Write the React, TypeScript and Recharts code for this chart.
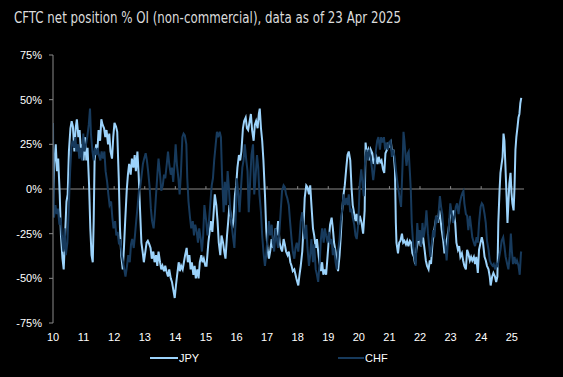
import { LineChart, Line, XAxis, YAxis, ReferenceLine } from 'recharts'

// [year fraction, net position % OI]
const JPY: [number, number][] = [
  [2010.00, -9], [2010.04, 14], [2010.09, 25], [2010.13, 10], [2010.17, 17], [2010.22, -3], [2010.26, -26],
  [2010.31, -39], [2010.35, -45], [2010.39, -28], [2010.44, -7], [2010.48, -3], [2010.52, 21], [2010.57, 34],
  [2010.61, 38], [2010.65, 35], [2010.70, 21], [2010.74, 34], [2010.78, 39], [2010.83, 29], [2010.87, 33],
  [2010.92, 19], [2010.96, 25], [2011.00, 16], [2011.05, 29], [2011.09, 16], [2011.13, 23], [2011.18, 2],
  [2011.22, -22], [2011.26, -37], [2011.30, -41], [2011.33, -18], [2011.36, 16], [2011.41, 25], [2011.45, 21],
  [2011.49, 33], [2011.54, 27], [2011.58, 39], [2011.62, 36], [2011.67, 34], [2011.71, 29], [2011.75, 33],
  [2011.80, 25], [2011.84, 31], [2011.88, 21], [2011.93, 17], [2011.97, 29], [2012.01, 37], [2012.06, 35],
  [2012.10, 32], [2012.15, 6], [2012.19, -22], [2012.23, -37], [2012.28, -45], [2012.32, -33], [2012.36, -18],
  [2012.41, -1], [2012.45, 8], [2012.49, 14], [2012.54, 8], [2012.58, 17], [2012.63, 12], [2012.67, 19],
  [2012.71, 10], [2012.76, 21], [2012.80, 8], [2012.84, -9], [2012.89, -30], [2012.93, -35], [2012.97, -41],
  [2013.02, -35], [2013.06, -30], [2013.10, -29], [2013.15, -31], [2013.19, -33], [2013.23, -39], [2013.28, -35],
  [2013.32, -41], [2013.37, -37], [2013.41, -43], [2013.45, -35], [2013.50, -41], [2013.54, -45], [2013.58, -43],
  [2013.63, -46], [2013.67, -43], [2013.71, -46], [2013.76, -49], [2013.80, -45], [2013.85, -50], [2013.89, -52],
  [2013.93, -56], [2013.98, -61], [2014.02, -54], [2014.06, -48], [2014.11, -41], [2014.15, -46], [2014.19, -43],
  [2014.24, -45], [2014.28, -41], [2014.32, -37], [2014.37, -33], [2014.41, -41], [2014.46, -37], [2014.50, -45],
  [2014.54, -41], [2014.59, -48], [2014.63, -43], [2014.67, -50], [2014.72, -45], [2014.76, -50], [2014.80, -41],
  [2014.85, -37], [2014.89, -41], [2014.93, -39], [2014.98, -43], [2015.02, -43], [2015.08, -30], [2015.12, -24],
  [2015.16, -18], [2015.21, -24], [2015.25, -14], [2015.29, -3], [2015.34, -9], [2015.38, -18], [2015.42, -30],
  [2015.47, -37], [2015.51, -26], [2015.56, -30], [2015.60, -35], [2015.64, -39], [2015.69, -26], [2015.73, -18],
  [2015.77, -9], [2015.82, -16], [2015.86, -22], [2015.90, -18], [2015.95, -3], [2015.99, 2], [2016.03, 12],
  [2016.08, 19], [2016.12, 16], [2016.16, 21], [2016.21, 34], [2016.25, 38], [2016.30, 40], [2016.34, 34],
  [2016.38, 33], [2016.43, 38], [2016.47, 42], [2016.51, 33], [2016.56, 27], [2016.60, 36], [2016.64, 38],
  [2016.69, 34], [2016.73, 42], [2016.76, 45], [2016.80, 34], [2016.84, 27], [2016.88, 16], [2016.93, -3],
  [2016.97, -22], [2017.01, -33], [2017.06, -39], [2017.10, -35], [2017.15, -28], [2017.19, -33], [2017.23, -30],
  [2017.28, -22], [2017.32, -26], [2017.36, -18], [2017.41, -30], [2017.45, -33], [2017.49, -35], [2017.54, -28],
  [2017.58, -31], [2017.62, -35], [2017.67, -37], [2017.71, -35], [2017.76, -41], [2017.80, -43], [2017.84, -46],
  [2017.89, -45], [2017.93, -48], [2017.97, -51], [2018.02, -54], [2018.06, -48], [2018.10, -43], [2018.15, -35],
  [2018.19, -22], [2018.23, -5], [2018.28, 2], [2018.32, 1], [2018.37, -3], [2018.41, 2], [2018.45, -9],
  [2018.50, -22], [2018.54, -26], [2018.59, -33], [2018.63, -28], [2018.67, -35], [2018.71, -41], [2018.76, -46],
  [2018.80, -41], [2018.84, -48], [2018.89, -45], [2018.93, -48], [2018.98, -37], [2019.02, -28], [2019.06, -20],
  [2019.11, -16], [2019.15, -22], [2019.19, -30], [2019.24, -35], [2019.28, -41], [2019.32, -46], [2019.37, -37],
  [2019.41, -26], [2019.45, -13], [2019.50, -3], [2019.54, 2], [2019.59, 12], [2019.63, 19], [2019.67, 21],
  [2019.72, 16], [2019.76, 1], [2019.80, -9], [2019.85, -14], [2019.89, -18], [2019.93, -14], [2019.98, -20],
  [2020.03, -15], [2020.09, -19], [2020.14, -25], [2020.19, -12], [2020.22, 26], [2020.26, 20], [2020.31, 22],
  [2020.35, 16], [2020.39, 22], [2020.44, 20], [2020.48, 14], [2020.52, 16], [2020.57, 18], [2020.61, 14],
  [2020.65, 18], [2020.70, 15], [2020.74, 16], [2020.79, 11], [2020.83, 9], [2020.87, 20], [2020.92, 22],
  [2020.96, 25], [2021.00, 24], [2021.05, 26], [2021.09, 20], [2021.13, 22], [2021.18, 11], [2021.21, -19],
  [2021.23, -30], [2021.28, -36], [2021.32, -30], [2021.36, -29], [2021.41, -25], [2021.45, -30], [2021.49, -29],
  [2021.54, -31], [2021.58, -29], [2021.62, -32], [2021.67, -29], [2021.71, -30], [2021.75, -36], [2021.80, -38],
  [2021.84, -42], [2021.88, -34], [2021.93, -30], [2021.97, -23], [2022.02, -32], [2022.06, -30], [2022.10, -27],
  [2022.15, -34], [2022.19, -40], [2022.23, -43], [2022.28, -45], [2022.32, -40], [2022.36, -42], [2022.41, -30],
  [2022.45, -25], [2022.50, -19], [2022.54, -15], [2022.58, -19], [2022.63, -12], [2022.67, -17], [2022.71, -23],
  [2022.76, -29], [2022.80, -36], [2022.84, -32], [2022.89, -27], [2022.93, -23], [2022.97, -17], [2023.02, -12],
  [2023.06, -15], [2023.10, -12], [2023.15, -19], [2023.19, -30], [2023.24, -34], [2023.28, -32], [2023.32, -38],
  [2023.37, -36], [2023.41, -40], [2023.45, -43], [2023.50, -45], [2023.54, -34], [2023.58, -36], [2023.63, -40],
  [2023.67, -38], [2023.71, -40], [2023.76, -38], [2023.80, -42], [2023.84, -38], [2023.89, -47], [2023.93, -34],
  [2023.98, -30], [2024.02, -27], [2024.06, -30], [2024.11, -38], [2024.15, -40], [2024.19, -43], [2024.24, -45],
  [2024.28, -49], [2024.31, -54], [2024.36, -49], [2024.40, -47], [2024.45, -49], [2024.49, -52], [2024.53, -49],
  [2024.56, -19], [2024.60, -1], [2024.63, 9], [2024.66, 13], [2024.70, 18], [2024.73, 31], [2024.76, 27],
  [2024.79, 14], [2024.83, -4], [2024.86, -19], [2024.89, -8], [2024.92, 3], [2024.96, 9], [2024.99, -2],
  [2025.02, -8], [2025.06, -12], [2025.09, 1], [2025.12, 22], [2025.15, 29], [2025.19, 35], [2025.22, 40],
  [2025.25, 42], [2025.28, 48], [2025.31, 51],
]

const CHF: [number, number][] = [
  [2010.00, 37], [2010.03, -16], [2010.08, -9], [2010.12, -14], [2010.16, -11], [2010.21, -20], [2010.25, -16],
  [2010.29, -26], [2010.34, -35], [2010.38, -22], [2010.42, -37], [2010.47, -30], [2010.51, -13], [2010.56, 10],
  [2010.60, 23], [2010.64, 27], [2010.69, 23], [2010.73, 29], [2010.77, 21], [2010.82, 25], [2010.86, 17],
  [2010.90, 23], [2010.95, 16], [2010.99, 31], [2011.03, 21], [2011.08, 25], [2011.12, 29], [2011.17, 36],
  [2011.21, 45], [2011.24, 31], [2011.29, 21], [2011.33, 16], [2011.37, 23], [2011.42, 19], [2011.46, 23],
  [2011.50, 19], [2011.55, 16], [2011.59, 21], [2011.64, 17], [2011.68, 21], [2011.72, 10], [2011.77, 4],
  [2011.81, -3], [2011.85, -9], [2011.90, -7], [2011.94, -16], [2011.98, -22], [2012.03, -18], [2012.07, -26],
  [2012.11, -24], [2012.16, -31], [2012.20, -28], [2012.25, -37], [2012.29, -41], [2012.33, -45], [2012.37, -49],
  [2012.42, -43], [2012.46, -37], [2012.51, -41], [2012.55, -31], [2012.59, -28], [2012.64, -33], [2012.68, -26],
  [2012.72, -18], [2012.77, -9], [2012.81, -1], [2012.85, 1], [2012.90, 8], [2012.94, 14], [2012.98, 17],
  [2013.03, 20], [2013.07, 16], [2013.11, 10], [2013.16, 1], [2013.20, -11], [2013.24, -18], [2013.29, -22],
  [2013.33, -14], [2013.37, -3], [2013.42, 10], [2013.45, 17], [2013.50, 8], [2013.54, -1], [2013.59, 2],
  [2013.63, 8], [2013.67, 6], [2013.72, 14], [2013.76, 21], [2013.80, 14], [2013.85, 8], [2013.89, 12],
  [2013.93, 4], [2013.98, 16], [2014.01, 25], [2014.05, 14], [2014.10, 6], [2014.14, -3], [2014.18, 8],
  [2014.23, 29], [2014.27, 31], [2014.31, 30], [2014.36, 25], [2014.39, 6], [2014.43, -7], [2014.48, -16],
  [2014.52, -22], [2014.57, -18], [2014.61, -26], [2014.65, -20], [2014.70, -24], [2014.74, -30], [2014.78, -22],
  [2014.83, -28], [2014.87, -35], [2014.91, -26], [2014.95, -9], [2015.01, -18], [2015.05, -26], [2015.10, -18],
  [2015.14, -9], [2015.19, 2], [2015.23, 6], [2015.27, 16], [2015.32, 25], [2015.36, 32], [2015.40, 29],
  [2015.45, 32], [2015.49, 29], [2015.53, 6], [2015.58, -13], [2015.62, 4], [2015.66, -9], [2015.71, 10],
  [2015.75, 1], [2015.80, -13], [2015.84, -20], [2015.88, -26], [2015.93, -33], [2015.97, -18], [2016.01, 6],
  [2016.06, -3], [2016.10, -13], [2016.14, -1], [2016.19, 12], [2016.23, 16], [2016.27, 25], [2016.32, 16],
  [2016.36, 10], [2016.40, -13], [2016.45, 6], [2016.49, 19], [2016.54, 25], [2016.58, -3], [2016.62, 6],
  [2016.67, 19], [2016.71, 12], [2016.75, -3], [2016.80, -13], [2016.84, -26], [2016.88, -35], [2016.93, -43],
  [2016.97, -37], [2017.01, -28], [2017.06, -18], [2017.10, -26], [2017.15, -20], [2017.19, -30], [2017.23, -35],
  [2017.28, -22], [2017.32, -28], [2017.36, -33], [2017.41, -22], [2017.45, -11], [2017.49, -1], [2017.54, 2],
  [2017.58, 1], [2017.62, -3], [2017.66, -5], [2017.71, -9], [2017.75, -18], [2017.80, -28], [2017.84, -35],
  [2017.89, -39], [2017.93, -33], [2017.97, -30], [2018.02, -35], [2018.06, -28], [2018.10, -18], [2018.15, -13],
  [2018.19, -22], [2018.23, -28], [2018.28, -20], [2018.32, -33], [2018.37, -43], [2018.41, -37], [2018.45, -28],
  [2018.50, -41], [2018.54, -31], [2018.59, -45], [2018.63, -48], [2018.67, -52], [2018.72, -41], [2018.76, -28],
  [2018.80, -22], [2018.85, -30], [2018.89, -22], [2018.93, -26], [2018.98, -30], [2019.02, -24], [2019.06, -30],
  [2019.11, -28], [2019.15, -37], [2019.19, -33], [2019.24, -41], [2019.28, -45], [2019.32, -35], [2019.37, -28],
  [2019.41, -18], [2019.46, -11], [2019.50, -3], [2019.54, -9], [2019.59, -5], [2019.63, -9], [2019.67, -3],
  [2019.72, -13], [2019.76, -11], [2019.80, -16], [2019.85, -20], [2019.89, -26], [2019.93, -28], [2019.98, -20],
  [2020.03, 3], [2020.08, 11], [2020.12, 3], [2020.16, -4], [2020.21, 18], [2020.25, 22], [2020.29, 16],
  [2020.34, 22], [2020.38, 18], [2020.42, 13], [2020.47, 5], [2020.51, 11], [2020.56, 22], [2020.60, 27],
  [2020.64, 29], [2020.69, 22], [2020.73, 29], [2020.77, 26], [2020.82, 29], [2020.86, 22], [2020.90, 26],
  [2020.95, 22], [2020.99, 26], [2021.04, 27], [2021.08, 18], [2021.12, 22], [2021.17, 18], [2021.21, 11],
  [2021.25, 5], [2021.30, -1], [2021.34, -6], [2021.38, -10], [2021.43, 14], [2021.46, 32], [2021.49, 27],
  [2021.53, 18], [2021.56, 13], [2021.60, 20], [2021.63, 21], [2021.67, 9], [2021.70, -1], [2021.73, -19],
  [2021.78, -32], [2021.82, -38], [2021.86, -43], [2021.91, -19], [2021.95, -29], [2021.99, -23], [2022.04, -32],
  [2022.08, -19], [2022.12, -27], [2022.17, -21], [2022.21, -12], [2022.26, -25], [2022.30, -32], [2022.34, -38],
  [2022.39, -30], [2022.43, -23], [2022.47, -27], [2022.52, -15], [2022.56, -19], [2022.60, -15], [2022.65, -4],
  [2022.69, -10], [2022.73, -14], [2022.78, -27], [2022.82, -30], [2022.87, -40], [2022.91, -30], [2022.95, -19],
  [2022.99, -8], [2023.04, -14], [2023.08, -19], [2023.13, -15], [2023.17, -10], [2023.21, -8], [2023.26, -14],
  [2023.30, -8], [2023.35, -4], [2023.39, -2], [2023.42, -1], [2023.45, -8], [2023.50, -14], [2023.54, -15],
  [2023.58, -23], [2023.63, -15], [2023.67, -21], [2023.71, -27], [2023.76, -30], [2023.80, -32], [2023.85, -27],
  [2023.89, -30], [2023.93, -19], [2023.98, -10], [2024.02, -8], [2024.06, -9], [2024.11, -14], [2024.15, -19],
  [2024.19, -29], [2024.24, -34], [2024.28, -40], [2024.33, -42], [2024.37, -43], [2024.41, -42], [2024.46, -45],
  [2024.50, -42], [2024.54, -43], [2024.59, -38], [2024.63, -34], [2024.67, -29], [2024.72, -27], [2024.76, -32],
  [2024.80, -38], [2024.85, -42], [2024.89, -45], [2024.93, -38], [2024.97, -25], [2025.00, -34], [2025.04, -42],
  [2025.09, -38], [2025.13, -42], [2025.17, -40], [2025.22, -43], [2025.26, -48], [2025.30, -36], [2025.31, -35],
]

const YEARS = [2010, 2011, 2012, 2013, 2014, 2015, 2016, 2017, 2018, 2019, 2020, 2021, 2022, 2023, 2024, 2025]
const Y_TICKS = [-75, -50, -25, 0, 25, 50, 75]

const JPY_COLOR = '#9cd3fb'
const CHF_COLOR = '#173a5c'
const AXIS = '#8a8a8a'
const FONT = '"Liberation Sans", Arial, sans-serif'

const jpyData = JPY.map(([t, v]) => ({ t, v }))
const chfData = CHF.map(([t, v]) => ({ t, v }))

export default function App() {
  return (
    <div style={{ position: 'fixed', left: 0, top: 0, width: 563, height: 377, background: '#000', overflow: 'hidden' }}>
      <svg width={563} height={40} style={{ position: 'absolute', left: 0, top: 0 }}>
        <text
          x={14}
          y={23}
          fill="#dcdcdc"
          fontSize={15}
          fontFamily='"Liberation Sans Narrow", "DejaVu Sans Condensed", Arial, sans-serif'
          textLength={387}
          lengthAdjust="spacingAndGlyphs"
        >
          CFTC net position % OI (non-commercial), data as of 23 Apr 2025
        </text>
      </svg>

      <div style={{ position: 'absolute', left: 0, top: 0 }}>
        <LineChart width={563} height={377} margin={{ top: 55, right: 39, bottom: 24, left: 0 }}>
          <XAxis
            dataKey="t"
            type="number"
            domain={[2010, 2025.4]}
            ticks={YEARS}
            allowDataOverflow
            tickFormatter={(y: number) => String(y).slice(2)}
            axisLine={false}
            tickLine={false}
            tickSize={0}
            tickMargin={10}
            height={30}
            tick={{ fill: '#ffffff', fontSize: 11, fontFamily: FONT }}
          />
          <YAxis
            type="number"
            domain={[-75, 75]}
            ticks={Y_TICKS}
            width={53}
            tickFormatter={(v: number) => `${v}%`}
            axisLine={{ stroke: AXIS }}
            tickLine={{ stroke: AXIS }}
            tickSize={4}
            tickMargin={7}
            tick={{ fill: '#ffffff', fontSize: 11, fontFamily: FONT }}
          />
          <ReferenceLine y={0} stroke={AXIS} strokeWidth={1} />
          {YEARS.slice(1).map(y => (
            <ReferenceLine key={y} segment={[{ x: y, y: 0 }, { x: y, y: 1.6 }]} stroke={AXIS} strokeWidth={1} />
          ))}
          <Line data={jpyData} dataKey="v" type="linear" stroke={JPY_COLOR} strokeWidth={2} dot={false} isAnimationActive={false} />
          <Line data={chfData} dataKey="v" type="linear" stroke={CHF_COLOR} strokeWidth={2} dot={false} isAnimationActive={false} />
        </LineChart>
      </div>

      {/* legend */}
      <div style={{ position: 'absolute', left: 150, top: 352, fontFamily: FONT, fontSize: 11, color: '#fff', display: 'flex', alignItems: 'center' }}>
        <span style={{ width: 28, height: 2, background: JPY_COLOR, display: 'inline-block' }} />
        <span style={{ marginLeft: 1 }}>JPY</span>
      </div>
      <div style={{ position: 'absolute', left: 338, top: 352, fontFamily: FONT, fontSize: 11, color: '#fff', display: 'flex', alignItems: 'center' }}>
        <span style={{ width: 26, height: 2, background: CHF_COLOR, display: 'inline-block' }} />
        <span style={{ marginLeft: 1 }}>CHF</span>
      </div>
    </div>
  )
}
